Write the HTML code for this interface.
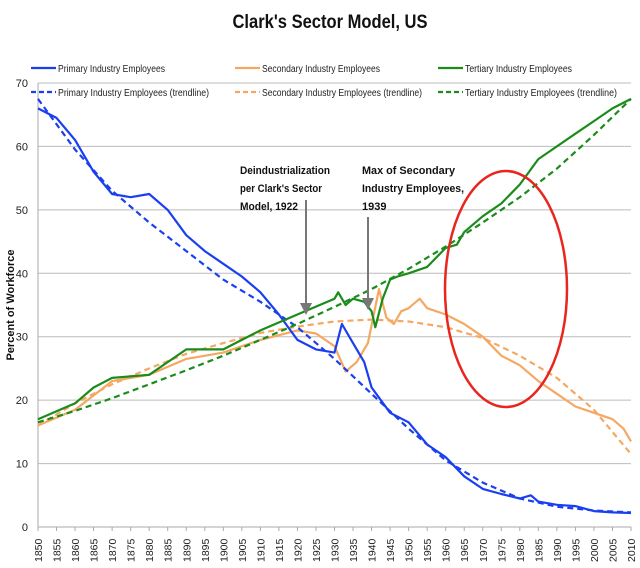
<!DOCTYPE html>
<html><head><meta charset="utf-8"><style>
body{margin:0;background:#fff;width:640px;height:563px;overflow:hidden}
svg text{font-family:"Liberation Sans Narrow","Liberation Sans",sans-serif}
</style></head><body>
<svg id="c" width="640" height="563">
<text x="330" y="28" text-anchor="middle" font-size="19" font-weight="bold" fill="#111" textLength="195" lengthAdjust="spacingAndGlyphs">Clark's Sector Model, US</text>
<text transform="translate(14,305) rotate(-90)" text-anchor="middle" font-size="11" font-weight="bold" fill="#111">Percent of Workforce</text>
<g id="grid"></g><g id="axes"></g><g id="series"></g><g id="legend"></g>
<g>
<text x="240" y="174" font-size="11" font-weight="bold" fill="#111"><tspan x="240" textLength="90" lengthAdjust="spacingAndGlyphs">Deindustrialization</tspan><tspan x="240" dy="18" textLength="82" lengthAdjust="spacingAndGlyphs">per Clark's Sector</tspan><tspan x="240" dy="18" textLength="58" lengthAdjust="spacingAndGlyphs">Model, 1922</tspan></text>
<line x1="306" y1="200" x2="306" y2="305" stroke="#777" stroke-width="2"/>
<polygon points="300,303 312,303 306,315" fill="#777"/>
<text x="362" y="174" font-size="11" font-weight="bold" fill="#111"><tspan x="362" textLength="93" lengthAdjust="spacingAndGlyphs">Max of Secondary</tspan><tspan x="362" dy="18" textLength="102" lengthAdjust="spacingAndGlyphs">Industry Employees,</tspan><tspan x="362" dy="18">1939</tspan></text>
<line x1="368" y1="217" x2="368" y2="300" stroke="#777" stroke-width="2"/>
<polygon points="362,298 374,298 368,310" fill="#777"/>
<ellipse cx="506" cy="289" rx="61" ry="118" fill="none" stroke="#e8261e" stroke-width="2.5"/>
</g>
</svg>
<script>
const yTicks=[0,10,20,30,40,50,60,70];
const xTicks=[];for(let y=1850;y<=2010;y+=5)xTicks.push(y);
const primYears=[1850,1855,1860,1865,1870,1875,1880,1885,1890,1895,1900,1905,1910,1915,1920,1925,1930,1932,1935,1938,1940,1945,1950,1955,1960,1965,1970,1975,1980,1983,1985,1990,1995,2000,2005,2010];
const primVals=[66,64.5,61,56,52.5,52,52.5,50,46,43.5,41.5,39.5,37,33.5,29.5,28,27.5,32,29,26,22,18,16.5,13,11,8,6,5.2,4.5,5,4,3.5,3.3,2.5,2.3,2.2];
const primTrendYears=[1850,1860,1870,1880,1890,1900,1910,1920,1930,1940,1950,1960,1970,1980,1990,2000,2010];
const primTrendVals=[67.5,59.5,53,48,43.5,39,35.5,31.5,26.5,21,15.5,10.5,7,4.5,3.2,2.6,2.3];
const secYears=[1850,1860,1870,1880,1890,1900,1910,1920,1925,1930,1933,1936,1939,1942,1944,1946,1948,1950,1953,1955,1960,1965,1970,1975,1980,1985,1990,1995,2000,2005,2008,2010];
const secVals=[16,18.5,23,24,26.5,27.5,29.5,31,30.5,28.5,24.5,26,29,37.5,33,32,34,34.5,36,34.5,33.5,32,30,27,25.5,23,21,19,18,17,15.5,13.5];
const secTrendYears=[1850,1860,1870,1880,1890,1900,1910,1920,1930,1940,1950,1960,1970,1980,1990,2000,2010];
const secTrendVals=[16,19.5,22.5,25,27.3,29,30.6,31.6,32.4,32.7,32.4,31.5,29.8,27,23.5,18.5,11.5];
const terYears=[1850,1860,1865,1870,1880,1885,1890,1900,1910,1920,1930,1931,1933,1935,1938,1940,1941,1943,1945,1947,1950,1955,1960,1963,1965,1970,1975,1980,1985,1990,1995,2000,2005,2010];
const terVals=[17,19.5,22,23.5,24,26,28,28,31,33.5,36,37,35,36,35.5,34,31.5,36,39,39.5,40,41,44,44.5,46.5,49,51,54,58,60,62,64,66,67.5];
const terTrendYears=[1850,1860,1870,1880,1890,1900,1910,1920,1930,1940,1950,1960,1970,1980,1990,2000,2010];
const terTrendVals=[16.5,18.3,20.3,22.5,24.7,27,29.5,32,34.7,37.5,40.7,44.2,48,52,56.5,61.8,67.5];

const X0=38,X1=631,Y0=527,Y1=83;
const sx=y=>X0+(y-1850)/(2010-1850)*(X1-X0);
const sy=v=>Y0-v/70*(Y0-Y1);
const NS="http://www.w3.org/2000/svg";
function mk(tag,attrs,parent){const e=document.createElementNS(NS,tag);for(const k in attrs)e.setAttribute(k,attrs[k]);parent.appendChild(e);return e;}
const grid=document.getElementById('grid'),axes=document.getElementById('axes'),series=document.getElementById('series'),legend=document.getElementById('legend');
yTicks.forEach(t=>{
 if(t>0){const g=mk('line',{x1:X0,x2:X1,y1:sy(t),y2:sy(t),stroke:'#bbb','stroke-width':1},grid);
 
 }
 const l=mk('text',{x:X0-10,y:sy(t)+4,'text-anchor':'end','font-size':11,fill:'#222'},axes);l.textContent=t;
 
 
});
const ya=mk('line',{x1:X0,x2:X0,y1:Y1,y2:Y0,stroke:'#aaa'},axes);


const xa=mk('line',{x1:X0,x2:X1,y1:Y0,y2:Y0,stroke:'#aaa'},axes);


xTicks.forEach(t=>{
 mk('line',{x1:sx(t),x2:sx(t),y1:Y0,y2:Y0+4,stroke:'#aaa'},axes);
 const l=mk('text',{transform:`translate(${sx(t)+4},${Y0+35}) rotate(-90)`,'font-size':10.5,fill:'#222'},axes);l.textContent=t;
 
 
});
function line(xs,vs,color,dash,name){
 const d=xs.map((x,i)=>(i?'L':'M')+sx(x).toFixed(1)+','+sy(vs[i]).toFixed(1)).join('');
 const p=mk('path',{d:d,fill:'none',stroke:color,'stroke-width':2.2,'stroke-dasharray':dash||'none','stroke-linejoin':'round'},series);
 
 
}
const BLUE='#1a3ff0',ORANGE='#f5a862',GREEN='#1b8c1b';
line(secTrendYears,secTrendVals,ORANGE,'6,4','secondary-trendline');
line(secYears,secVals,ORANGE,null,'secondary-line');
line(primTrendYears,primTrendVals,BLUE,'6,4','primary-trendline');
line(primYears,primVals,BLUE,null,'primary-line');
line(terTrendYears,terTrendVals,GREEN,'6,4','tertiary-trendline');
line(terYears,terVals,GREEN,null,'tertiary-line');
const leg=[[31,68,BLUE,null,'Primary Industry Employees',107],[31,92,BLUE,'5,3','Primary Industry Employees (trendline)',151],
[235,68,ORANGE,null,'Secondary Industry Employees',118],[235,92,ORANGE,'5,3','Secondary Industry Employees (trendline)',160],
[438,68,GREEN,null,'Tertiary Industry Employees',107],[438,92,GREEN,'5,3','Tertiary Industry Employees (trendline)',152]];
leg.forEach((e,i)=>{
 const g=mk('g',{},legend);
 
 
 mk('line',{x1:e[0],x2:e[0]+25,y1:e[1],y2:e[1],stroke:e[2],'stroke-width':2.2,'stroke-dasharray':e[3]||'none'},g);
 const t=mk('text',{x:e[0]+27,y:e[1]+4,'font-size':10,fill:'#222',textLength:e[5],lengthAdjust:'spacingAndGlyphs'},g);t.textContent=e[4];
});
</script>
</body></html>
